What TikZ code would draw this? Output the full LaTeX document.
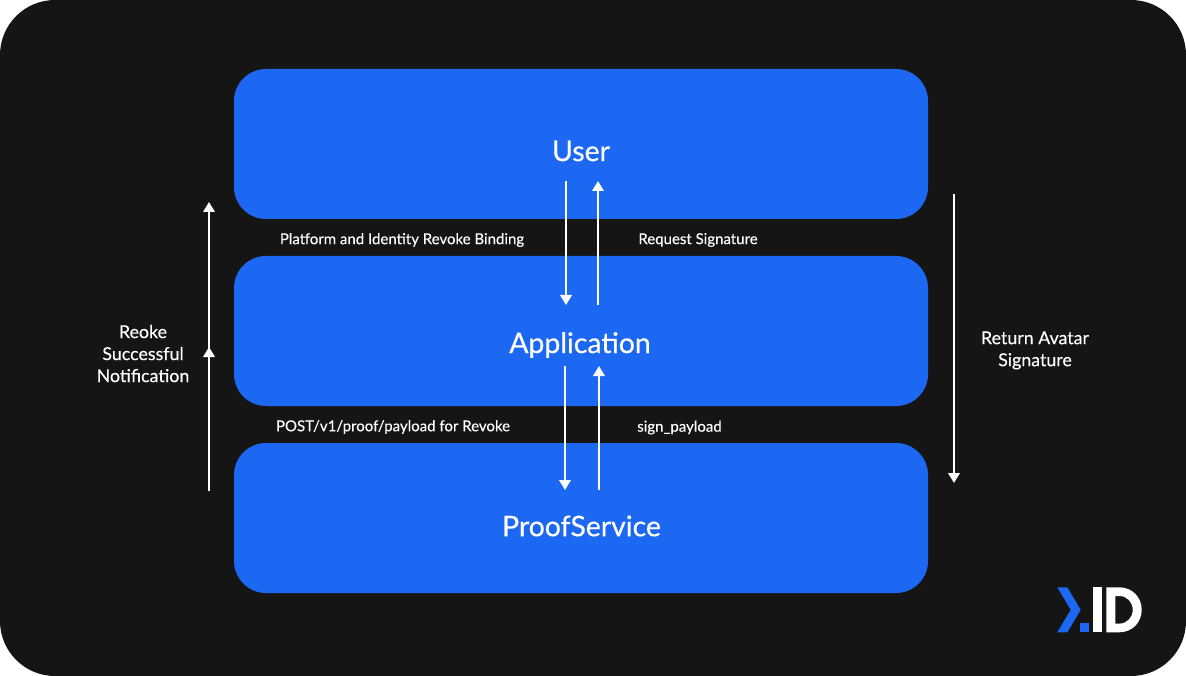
\documentclass[tikz,border=0pt]{standalone}
\usepackage{fontspec}
\setmainfont{Lato}
\newfontfamily\titlefont[FakeBold=0.4]{Lato}
\newfontfamily\labfont[FakeBold=0.2]{Lato}
\usetikzlibrary{arrows.meta}
\definecolor{bgdark}{HTML}{151515}
\definecolor{boxblue}{HTML}{1C68F3}
\tikzset{
  x=1pt,y=-1pt,
  layer/.style={draw=none,fill=boxblue,rounded corners=32pt,minimum width=694pt,minimum height=150pt,inner sep=0pt},
  title/.style={text=white,font=\titlefont\fontsize{28.4}{32}\selectfont,inner sep=0pt,draw=none},
  lab/.style={text=white,font=\labfont\fontsize{15}{18}\selectfont,inner sep=0pt},
  side/.style={text=white,font=\labfont\fontsize{17.8}{22}\selectfont,inner sep=0pt,align=center},
  flow/.style={draw=white,line width=2pt,-{Triangle[width=11.5pt,length=10pt]}},
}
\begin{document}
\begin{tikzpicture}
\useasboundingbox (0,0) rectangle (1186,676);
\fill[white] (0,0) rectangle (1186,676);
\fill[bgdark,rounded corners=55pt] (0,0) rectangle (1186,676);

\node[layer] (user) at (581,144) {};
\node[layer] (app) at (581,331) {};
\node[layer] (proof) at (581,518) {};
\node[title] (tuser) at (581,151) {User};
\node[title] (tapp) at (580,345) {Application};
\node[title] (tproof) at (581.5,526) {ProofService};

\node[lab] (l1) at (402,240) {Platform and Identity Revoke Binding};
\node[lab] (l2) at (698,240) {Request Signature};
\node[lab] (l3) at (393,427) {POST/v1/proof/payload for Revoke};
\node[lab] (l4) at (679.5,427.5) {sign\_payload};
\node[side] (l5) at (143,353.6) {Reoke\\Successful\\Notification};
\node[side] (l6) at (1035,350.4) {Return Avatar\\Signature};

\coordinate (a1s) at (566,181); \coordinate (a1e) at (566,305);
\coordinate (a2s) at (598,305); \coordinate (a2e) at (598,181);
\coordinate (a3s) at (565,366); \coordinate (a3e) at (565,490);
\coordinate (a4s) at (599,490); \coordinate (a4e) at (599,366);
\coordinate (a5s) at (209,491); \coordinate (a5e) at (209,202);
\coordinate (a6s) at (209,491); \coordinate (a6e) at (209,347);
\coordinate (a7s) at (954,194); \coordinate (a7e) at (954,483);
\draw[flow] (a1s) -- (a1e);
\draw[flow] (a2s) -- (a2e);
\draw[flow] (a3s) -- (a3e);
\draw[flow] (a4s) -- (a4e);
\draw[flow] (a5s) -- (a5e);
\draw[flow] (a6s) -- (a6e);
\draw[flow] (a7s) -- (a7e);

% logo
\fill[boxblue] (1057.3,587.3) -- (1067.3,587.3) -- (1080.7,609.8) -- (1067.3,632.3) -- (1057.3,632.3) -- (1070.7,609.8) -- cycle;
\fill[boxblue] (1080,623.3) rectangle (1089,632.3);
\fill[white] (1093.3,587.3) rectangle (1102.3,632.3);
\fill[white,even odd rule] (1106.3,587.3) -- (1119.2,587.3) .. controls (1132,587.3) and (1141.7,597) .. (1141.7,609.8) .. controls (1141.7,622.6) and (1132,632.3) .. (1119.2,632.3) -- (1106.3,632.3) -- cycle
 (1115.3,596) -- (1115.3,623.6) -- (1119.2,623.6) .. controls (1127,623.6) and (1132.7,617.6) .. (1132.7,609.8) .. controls (1132.7,602) and (1127,596) .. (1119.2,596) -- cycle;
\end{tikzpicture}
\end{document}
